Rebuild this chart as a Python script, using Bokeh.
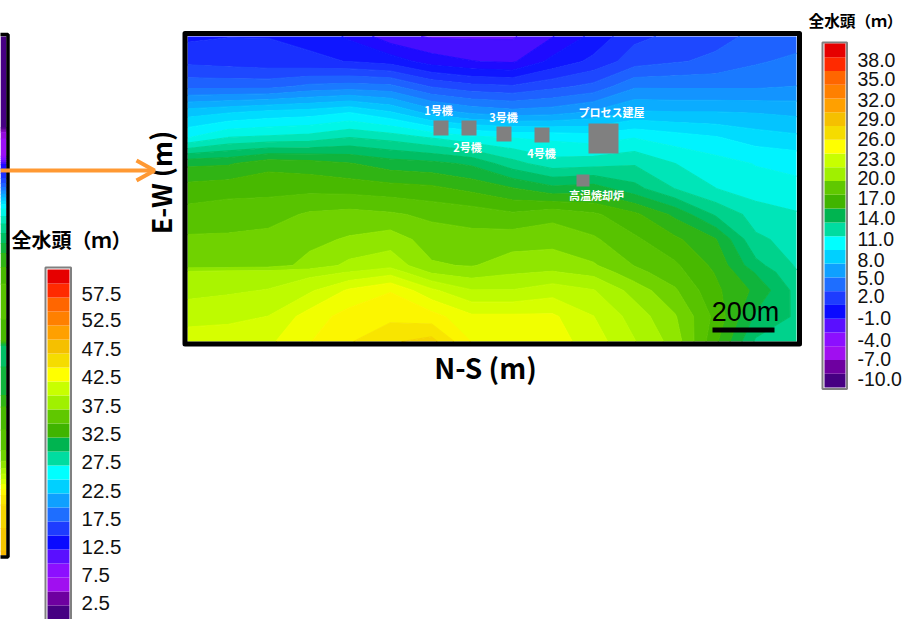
from bokeh.plotting import figure
from bokeh.models import Range1d
from bokeh.core.properties import value
from bokeh.embed import file_html
from bokeh.resources import INLINE
import numpy as np

# palette, low to high (25 bands)
palette = ["#460082", "#6e00a0", "#a00ff0", "#8c0fff", "#5a0fff", "#0a0aff", "#1e3cff", "#1e6eff",
           "#0fa0ff", "#00d0ff", "#00ffff", "#00dca0", "#00b450", "#40b400", "#60c800", "#a0f000",
           "#c8ff00", "#ffff00", "#f5dc00", "#f5c000", "#ffa000", "#ff8000", "#ff6600", "#ff2a00", "#e60000"]
right_levels = [-11.2, -9.13, -7.06, -4.98, -2.91, -0.84, 1.23, 3.3, 5.38, 7.45, 9.52, 11.59, 13.66,
                15.74, 17.81, 19.88, 21.95, 24.02, 26.1, 28.17, 30.24, 32.31, 34.38, 36.46, 38.53, 40.6]
left_levels = [0, 2.5, 5, 7.5, 10, 12.5, 15, 17.5, 20, 22.5, 25, 27.5, 30, 32.5, 35, 37.5, 40, 42.5,
               45, 47.5, 50, 52.5, 55, 57.5, 60, 62.5]

# total head on the map (rows north to south, columns west to east)
map_heads = [
    [1.0, 1.2, 1.2, 1.0, 0.0, -1.5, -2.0, -2.0, -2.0, -0.9, 0.5, 2.0, 2.5, 3.0, 3.5, 3.8],
    [2.0, 1.8, 1.6, 1.4, 1.2, 0.8, -0.3, -0.8, -1.0, 0.5, 1.5, 2.8, 3.2, 3.5, 4.2, 4.6],
    [4.0, 4.0, 4.0, 4.6, 4.8, 4.6, 3.2, 2.6, 2.4, 3.0, 3.6, 5.2, 5.2, 5.2, 5.2, 5.4],
    [8.0, 8.4, 8.8, 9.0, 9.5, 8.6, 7.0, 6.2, 5.8, 6.0, 6.6, 7.6, 7.5, 7.5, 7.4, 7.2],
    [10.5, 11.6, 11.8, 12.0, 12.6, 12.2, 11.5, 10.8, 10.5, 10.3, 10.0, 10.5, 10.0, 9.6, 9.0, 8.7],
    [15.5, 15.6, 16.4, 16.2, 15.8, 15.2, 15.0, 14.5, 13.0, 12.0, 12.2, 12.5, 11.6, 11.0, 10.5, 10.3],
    [17.2, 17.4, 17.5, 17.5, 17.4, 17.2, 17.0, 16.5, 15.8, 15.0, 15.2, 14.0, 12.6, 11.6, 11.0, 10.8],
    [18.2, 18.4, 18.4, 19.0, 19.2, 19.0, 18.6, 18.4, 18.0, 18.5, 18.0, 17.0, 15.5, 13.5, 12.2, 11.7],
    [19.0, 19.0, 19.2, 19.6, 20.0, 20.4, 19.4, 19.2, 19.4, 19.5, 19.0, 18.0, 17.0, 15.8, 12.8, 12.3],
    [19.2, 19.2, 19.4, 20.2, 21.2, 21.6, 20.0, 19.8, 20.4, 20.5, 20.0, 18.8, 18.0, 16.5, 14.0, 12.5],
    [21.2, 21.4, 21.4, 21.6, 22.0, 22.6, 20.8, 20.4, 20.8, 21.0, 20.6, 19.2, 18.2, 16.7, 14.6, 12.7],
    [21.6, 21.8, 22.0, 22.8, 24.2, 25.0, 23.2, 22.0, 22.0, 22.5, 22.0, 20.5, 19.0, 17.0, 15.5, 13.3],
    [22.6, 22.7, 23.0, 24.5, 25.5, 25.8, 25.5, 24.2, 24.2, 24.2, 23.0, 21.5, 20.0, 17.5, 14.5, 13.5],
    [23.5, 23.6, 23.8, 25.0, 26.0, 27.0, 27.5, 25.0, 25.0, 24.5, 23.5, 22.0, 20.5, 17.0, 13.5, 13.5],
]
map_x = [187, 228, 268, 309, 349, 390, 431, 471, 512, 552, 593, 634, 674, 715, 755, 796]
map_y = [36, 61, 86, 112, 137, 163, 188, 214, 239, 265, 272, 290, 316, 341]

# the cut-off map on the left edge
strip_y = [36, 127, 133, 155, 165, 185, 207, 225, 257, 297, 340, 345, 388, 402, 448, 465, 478, 490, 500, 528, 555]
strip_heads = [1, 1.2, 6, 7, 13, 18, 26, 29, 33, 36, 34, 31, 31.5, 33.5, 36, 38, 41, 44, 46, 47.5, 49]

right_ticks = ["38.0", "35.0", "32.0", "29.0", "26.0", "23.0", "20.0", "17.0", "14.0", "11.0", "8.0",
               "5.0", "2.0", "-1.0", "-4.0", "-7.0", "-10.0"]
right_tick_y = [59, 78, 99, 118, 138, 158, 177, 197, 217, 238, 259, 277, 295, 317, 339, 358, 378]
left_ticks = ["57.5", "52.5", "47.5", "42.5", "37.5", "32.5", "27.5", "22.5", "17.5", "12.5", "7.5", "2.5"]
left_tick_y = [293, 319, 348, 376, 405, 433, 461, 490, 518, 546, 574, 602]

bld_names = ["1号機", "2号機", "3号機", "4号機", "プロセス建屋", "高温焼却炉"]
bld_left = [433, 461, 496, 534, 588, 576]
bld_right = [448, 476, 511, 549, 618, 589]
bld_top = [120, 120, 126, 127, 123, 174]
bld_bottom = [135, 135, 141, 142, 153, 186]
bld_label_x = [438, 467, 503, 541, 611, 596]
bld_label_y = [109, 146, 116, 152, 111, 194]


def rgb(c):
    return np.array([int(c[i:i + 2], 16) for i in (1, 3, 5)], dtype=float)


def hexs(a):
    return "#%02x%02x%02x" % tuple(int(round(v)) for v in a)


def refine(levels, colors):
    lv, cs = [], []
    for i, c in enumerate(colors):
        mid = (levels[i] + levels[i + 1]) / 2
        lv += [levels[i], mid]
        prev = rgb(colors[max(i - 1, 0)])
        nxt = rgb(colors[min(i + 1, len(colors) - 1)])
        cs += [hexs((rgb(c) * 3 + prev) / 4), hexs((rgb(c) * 3 + nxt) / 4)]
    return lv + [levels[-1]], cs


p = figure(width=906, height=619, x_range=Range1d(0, 906), y_range=Range1d(619, 0),
           output_backend="svg", toolbar_location=None, min_border=0, outline_line_color=None,
           margin=(0, 0, 0, 0))
p.axis.visible = False
p.grid.visible = False

X, Y = np.meshgrid(map_x, map_y)
lv, cs = refine(right_levels, palette)
p.contour(X, Y, np.array(map_heads), lv, fill_color=cs, line_color=cs + [cs[-1]], line_width=1.2)

sx, sy = np.meshgrid([0, 6], strip_y)
lv2, cs2 = refine(left_levels, palette)
p.contour(sx, sy, np.array([[h, h] for h in strip_heads]), lv2, fill_color=cs2, line_color=cs2 + [cs2[-1]], line_width=1.2)
p.quad(left=[-10], right=[7.5], top=[34], bottom=[556.5], fill_color=None, line_color="black", line_width=3.5)

# main frame
p.quad(left=[184.5], right=[799], top=[33], bottom=[343.5], fill_color=None, line_color="black",
       line_width=5, line_join="round")

# buildings
p.quad(left=bld_left, right=bld_right, top=bld_top, bottom=bld_bottom, fill_color="#808080", line_color=None)
p.text(bld_label_x, bld_label_y, text=bld_names, text_color="white", text_font=value("Noto Sans CJK JP"),
       text_font_style="bold", text_font_size="11px", text_align="center", text_baseline="middle")

# scale
p.text([745], [311], text=["200m"], text_font=value("Liberation Sans"), text_font_size="27px",
       text_align="center", text_baseline="middle", text_color="black")
p.quad(left=[712], right=[774], top=[327], bottom=[332], fill_color="black", line_color=None)

# axis titles
p.text([485], [366], text=["N-S (m)"], text_font=value("Noto Sans CJK JP"), text_font_style="bold",
       text_font_size="28px", text_align="center", text_baseline="middle", text_color="black")
p.text([160], [182], text=["E-W (m)"], text_font=value("Noto Sans CJK JP"), text_font_style="bold",
       text_font_size="27px", text_align="center", text_baseline="middle", text_color="black",
       angle=np.pi / 2)

# arrow
p.line([0, 153], [170, 170], line_color="#ff9933", line_width=4)
p.line([136, 154, 136], [160, 170, 180], line_color="#ff9933", line_width=4)

# colour bars
p.quad(left=[822], right=[846.5], top=[42], bottom=[388.5], fill_color="white", line_color="#808080", line_width=2)
p.quad(left=[824] * 25, right=[845] * 25,
       top=[387 - 13.76 * (i + 1) for i in range(25)], bottom=[387 - 13.76 * i for i in range(25)],
       fill_color=palette, line_color=None)
p.quad(left=[45], right=[70.5], top=[267], bottom=[640], fill_color="white", line_color="#808080", line_width=2)
p.quad(left=[47] * 25, right=[69] * 25,
       top=[619 - 14 * (i + 1) for i in range(25)], bottom=[619 - 14 * i for i in range(25)],
       fill_color=palette, line_color=None)

p.text([857] * len(right_ticks), right_tick_y, text=right_ticks, text_font=value("Liberation Sans"),
       text_font_size="19.5px", text_baseline="middle", text_color="#111111")
p.text([81] * len(left_ticks), left_tick_y, text=left_ticks, text_font=value("Liberation Sans"),
       text_font_size="20.5px", text_baseline="middle", text_color="#111111")

p.text([855], [20], text=["全水頭（ｍ）"], text_font=value("Noto Sans CJK JP"), text_font_style="bold",
       text_font_size="15.7px", text_align="center", text_baseline="middle", text_color="black")
p.text([71], [239], text=["全水頭（ｍ）"], text_font=value("Noto Sans CJK JP"), text_font_style="bold",
       text_font_size="20px", text_align="center", text_baseline="middle", text_color="black")

open("out.html", "w").write(file_html(p, INLINE))
